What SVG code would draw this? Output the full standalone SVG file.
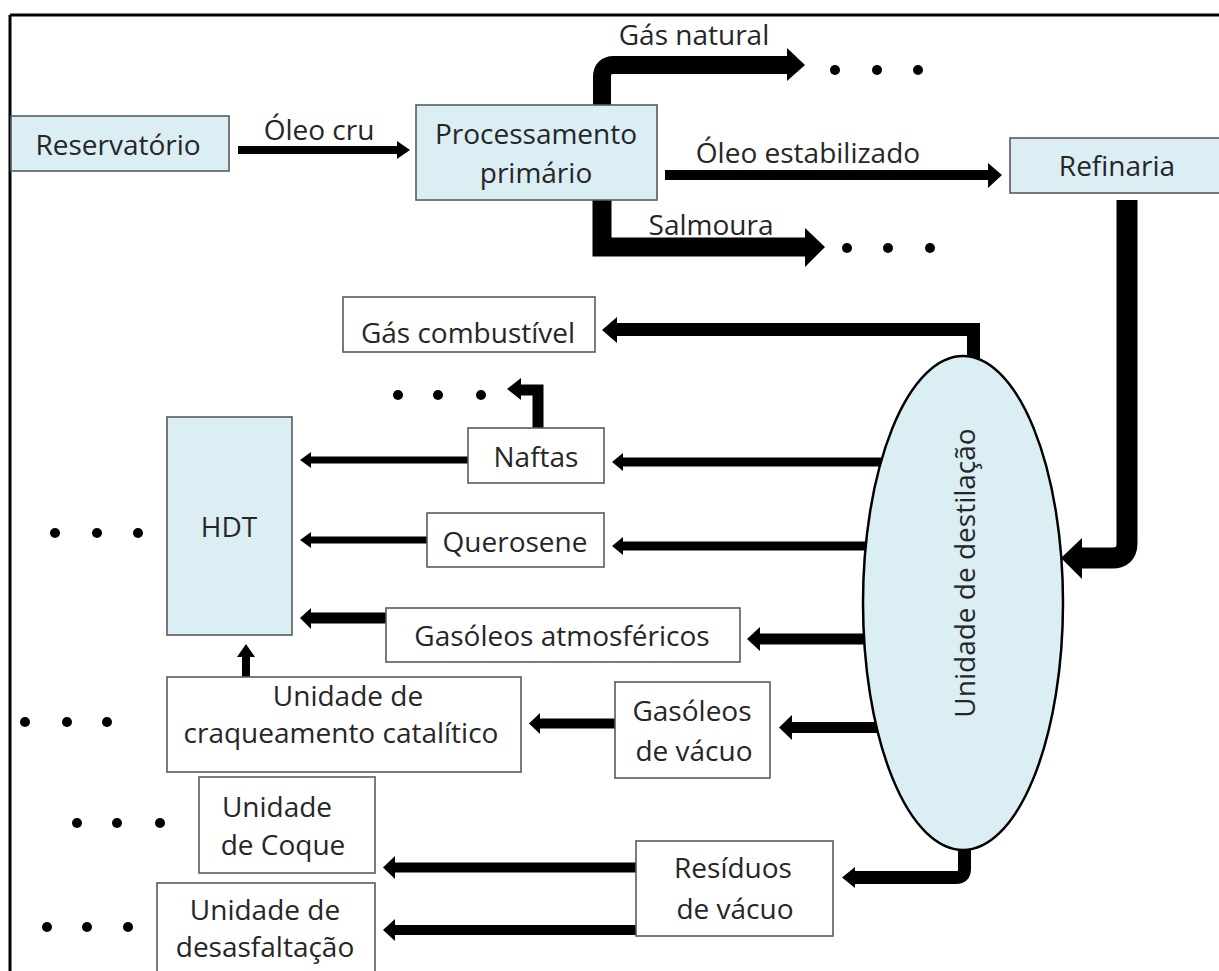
<svg xmlns="http://www.w3.org/2000/svg" width="1219" height="971" viewBox="0 0 1219 971">
<style>
.bg{fill:#ffffff}
.frame{stroke:#000;stroke-width:3;fill:none}
.blue{fill:#dbeef4;stroke:#5a5a5a;stroke-width:1.6}
.white{fill:#ffffff;stroke:#5a5a5a;stroke-width:1.6}
.ell{fill:#dbeef4;stroke:#000;stroke-width:2.5}
.t{font-family:"Open Sans","Noto Sans",sans-serif;font-size:28px;fill:#262626;text-anchor:middle}
.c{stroke:#000;fill:none;stroke-linejoin:miter;stroke-linecap:butt}
.h{fill:#000}
.dot{fill:#000}
</style>
<rect class="bg" x="0" y="0" width="1219" height="971"/>
<g id="frame">
<line class="frame" x1="10" y1="15" x2="1219" y2="15"/>
<line class="frame" x1="10" y1="15" x2="10" y2="971"/>
</g>

<g id="connectors">
<!-- Óleo cru -->
<line class="c" x1="238" y1="150" x2="399" y2="150" stroke-width="8"/>
<polygon class="h" points="397,141 410,150 397,159"/>
<!-- Gás natural -->
<path class="c" d="M602,105 V77 Q602,65 614,65 H790" stroke-width="18"/>
<polygon class="h" points="787,48 805,65 787,81"/>
<!-- Óleo estabilizado -->
<line class="c" x1="665" y1="175" x2="990" y2="175" stroke-width="10"/>
<polygon class="h" points="988,163 1002,175 988,188"/>
<!-- Salmoura -->
<path class="c" d="M602,200 V247 H807" stroke-width="19"/>
<polygon class="h" points="805,228 825,247 805,267"/>
<!-- Refinaria to distillation -->
<path class="c" d="M1127,200 V543 Q1127,558 1112,558 H1080" stroke-width="21"/>
<polygon class="h" points="1082,538 1061,558 1082,579"/>
<!-- distillation to Gás combustível -->
<path class="c" d="M973.5,362 V329.5 H615" stroke-width="13"/>
<polygon class="h" points="617,317 602,330 617,343"/>
<!-- Naftas up -->
<path class="c" d="M538,428 V390 H519" stroke-width="11"/>
<polygon class="h" points="521,378 507,389 521,400"/>
<!-- distillation to Naftas -->
<line class="c" x1="892" y1="462" x2="621" y2="462" stroke-width="9"/>
<polygon class="h" points="623,453 612,462 623,471"/>
<!-- Naftas to HDT -->
<line class="c" x1="469" y1="460" x2="308" y2="460" stroke-width="7"/>
<polygon class="h" points="311,452 300,460 311,468"/>
<!-- distillation to Querosene -->
<line class="c" x1="872" y1="546" x2="621" y2="546" stroke-width="9"/>
<polygon class="h" points="623,537 612,546 623,555"/>
<!-- Querosene to HDT -->
<line class="c" x1="428" y1="540" x2="308" y2="540" stroke-width="7"/>
<polygon class="h" points="311,532 300,540 311,548"/>
<!-- distillation to Gasóleos atmosféricos -->
<line class="c" x1="870" y1="639" x2="757" y2="639" stroke-width="11"/>
<polygon class="h" points="760,627 747,639 760,651"/>
<!-- Gasóleos atm to HDT -->
<line class="c" x1="387" y1="618" x2="308" y2="618" stroke-width="11"/>
<polygon class="h" points="311,608 300,618 311,629"/>
<!-- craqueamento to HDT -->
<line class="c" x1="246" y1="677" x2="246" y2="654" stroke-width="8"/>
<polygon class="h" points="237,657 246,644 255,657"/>
<!-- distillation to Gasóleos de vácuo -->
<line class="c" x1="880" y1="727.5" x2="790" y2="727.5" stroke-width="11"/>
<polygon class="h" points="792,715 779,727.5 792,740"/>
<!-- Gasóleos vácuo to craqueamento -->
<line class="c" x1="616" y1="723.5" x2="538" y2="723.5" stroke-width="10"/>
<polygon class="h" points="540,713 529,723.5 540,734"/>
<!-- distillation bottom to Resíduos -->
<path class="c" d="M964.5,848 V869 Q964.5,877.5 956,877.5 H852" stroke-width="13"/>
<polygon class="h" points="855,867 842,877.5 855,888"/>
<!-- Resíduos to Coque -->
<line class="c" x1="637" y1="867.5" x2="393" y2="867.5" stroke-width="10"/>
<polygon class="h" points="395,856 383,867.5 395,879"/>
<!-- Resíduos to desasfaltação -->
<line class="c" x1="637" y1="930" x2="393" y2="930" stroke-width="10"/>
<polygon class="h" points="395,919 383,930 395,941"/>
</g>

<g id="reservatorio">
<rect class="blue" x="11" y="116" width="218" height="55"/>
<text class="t" x="118" y="155">Reservatório</text>
</g>
<g id="label-oleo-cru"><text class="t" x="319" y="140">Óleo cru</text></g>
<g id="processamento">
<rect class="blue" x="416" y="105" width="241" height="95"/>
<text class="t" x="536" y="144">Processamento</text>
<text class="t" x="536" y="183">primário</text>
</g>
<g id="label-gas-natural"><text class="t" x="694" y="45">Gás natural</text></g>
<g id="label-oleo-estabilizado"><text class="t" x="808" y="163">Óleo estabilizado</text></g>
<g id="label-salmoura"><text class="t" x="711" y="235">Salmoura</text></g>
<g id="dots-gas"><circle class="dot" cx="835" cy="70" r="5"/><circle class="dot" cx="877" cy="70" r="5"/><circle class="dot" cx="918" cy="70" r="5"/></g>
<g id="dots-salmoura"><circle class="dot" cx="847" cy="248" r="5"/><circle class="dot" cx="888" cy="248" r="5"/><circle class="dot" cx="930" cy="248" r="5"/></g>
<g id="refinaria">
<rect class="blue" x="1010" y="138" width="215" height="55"/>
<text class="t" x="1117" y="176">Refinaria</text>
</g>
<g id="destilacao">
<ellipse class="ell" cx="963" cy="603" rx="100" ry="247"/>
<text class="t" transform="translate(975,573) rotate(-90)" x="0" y="0">Unidade de destilação</text>
</g>
<g id="gas-combustivel">
<rect class="white" x="343" y="297" width="252" height="55"/>
<text class="t" x="468" y="343">Gás combustível</text>
</g>
<g id="dots-naftas"><circle class="dot" cx="398" cy="395" r="5"/><circle class="dot" cx="438" cy="395" r="5"/><circle class="dot" cx="481" cy="395" r="5"/></g>
<g id="naftas">
<rect class="white" x="468" y="428" width="136" height="55"/>
<text class="t" x="536" y="467">Naftas</text>
</g>
<g id="querosene">
<rect class="white" x="427" y="513" width="177" height="54"/>
<text class="t" x="515" y="552">Querosene</text>
</g>
<g id="hdt">
<rect class="blue" x="167" y="417" width="125" height="218"/>
<text class="t" x="229" y="537">HDT</text>
</g>
<g id="dots-hdt"><circle class="dot" cx="55" cy="533" r="5"/><circle class="dot" cx="97" cy="533" r="5"/><circle class="dot" cx="138" cy="533" r="5"/></g>
<g id="gasoleos-atm">
<rect class="white" x="386" y="608" width="354" height="54"/>
<text class="t" x="562" y="646">Gasóleos atmosféricos</text>
</g>
<g id="craqueamento">
<rect class="white" x="167" y="677" width="354" height="95"/>
<text class="t" x="348" y="706">Unidade de</text>
<text class="t" x="341" y="743">craqueamento catalítico</text>
</g>
<g id="dots-craq"><circle class="dot" cx="25" cy="722" r="5"/><circle class="dot" cx="67" cy="722" r="5"/><circle class="dot" cx="107" cy="722" r="5"/></g>
<g id="gasoleos-vacuo">
<rect class="white" x="615" y="682" width="155" height="96"/>
<text class="t" x="692" y="721">Gasóleos</text>
<text class="t" x="694" y="761">de vácuo</text>
</g>
<g id="coque">
<rect class="white" x="199" y="777" width="176" height="96"/>
<text class="t" x="277" y="817">Unidade</text>
<text class="t" x="283" y="855">de Coque</text>
</g>
<g id="dots-coque"><circle class="dot" cx="77" cy="823" r="5"/><circle class="dot" cx="117" cy="823" r="5"/><circle class="dot" cx="160" cy="823" r="5"/></g>
<g id="desasfaltacao">
<rect class="white" x="157" y="883" width="218" height="100"/>
<text class="t" x="265" y="920">Unidade de</text>
<text class="t" x="265" y="957">desasfaltação</text>
</g>
<g id="dots-desasf"><circle class="dot" cx="47" cy="927" r="5"/><circle class="dot" cx="87" cy="927" r="5"/><circle class="dot" cx="128" cy="927" r="5"/></g>
<g id="residuos">
<rect class="white" x="636" y="841" width="197" height="95"/>
<text class="t" x="733" y="878">Resíduos</text>
<text class="t" x="735" y="919">de vácuo</text>
</g>
</svg>
